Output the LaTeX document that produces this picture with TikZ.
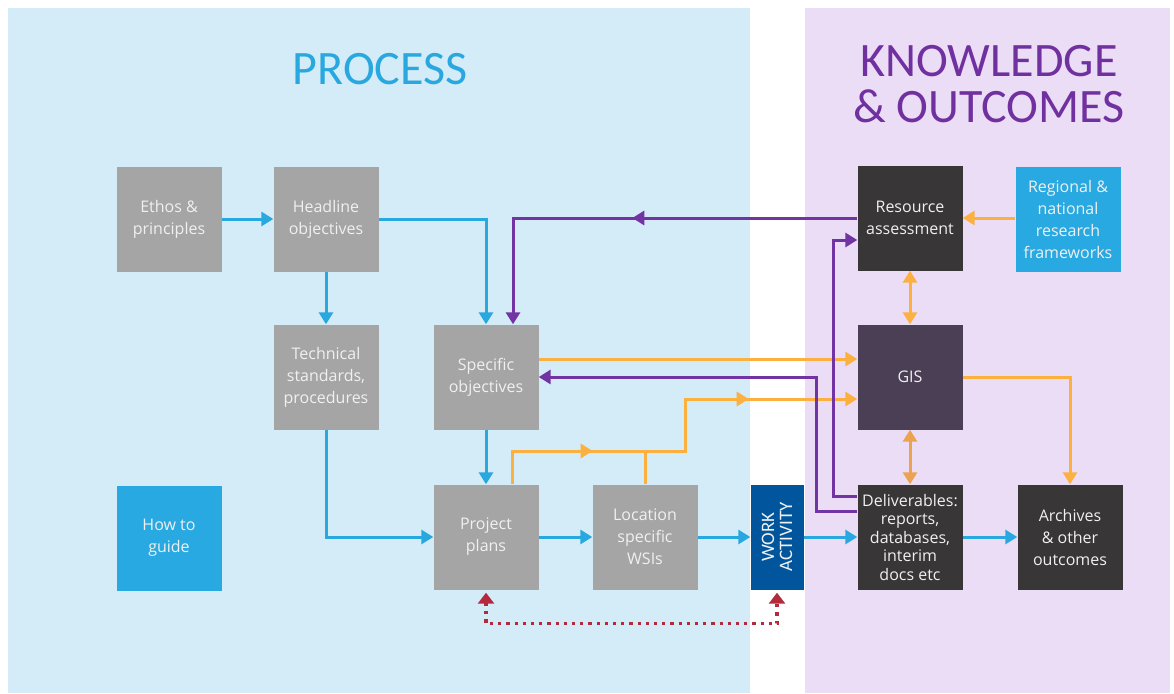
\documentclass[tikz,border=0pt]{standalone}
\usepackage{fontspec}
\setmainfont{Open Sans}
\newfontfamily\titlefont{Carlito}
\usetikzlibrary{arrows.meta,decorations.markings,calc}
\definecolor{panelblue}{HTML}{D4ECF8}
\definecolor{panelpurple}{HTML}{EBDDF5}
\definecolor{boxgray}{HTML}{A5A5A5}
\definecolor{boxblue}{HTML}{29A9E1}
\definecolor{boxdark}{HTML}{383636}
\definecolor{boxgis}{HTML}{4B3F55}
\definecolor{boxwork}{HTML}{00559C}
\definecolor{lineblue}{HTML}{29A8E0}
\definecolor{lineorange}{HTML}{FBB040}
\definecolor{lineorangeb}{HTML}{EBA352}
\definecolor{linepurple}{HTML}{7233A3}
\definecolor{linered}{HTML}{B32A3C}
\definecolor{titlepurple}{HTML}{7030A0}
\begin{document}
\begin{tikzpicture}[x=1pt,y=-1pt,
  box/.style={minimum width=105pt,minimum height=105pt,inner sep=2pt,align=center,
    text=white!94!black,font=\fontsize{16}{22}\selectfont},
  graybox/.style={box,fill=boxgray},
  bluebox/.style={box,fill=boxblue},
  darkbox/.style={box,fill=boxdark},
  title/.style={font=\titlefont\fontsize{48}{46}\selectfont,align=center},
  tip/.tip={Triangle[width=14pt,length=12pt]},
  conn/.style={line width=3pt,-tip},
  blueconn/.style={conn,draw=lineblue},
  orangeconn/.style={conn,draw=lineorange},
  purpleconn/.style={conn,draw=linepurple},
  twoway/.style={line width=3pt,tip-tip},
  reddot/.style={draw=linered,line width=3.2pt,dash pattern=on 3.2pt off 5pt,
    {Triangle[width=16pt,length=11pt]}-{Triangle[width=16pt,length=11pt]}},
  midtip/.style={postaction={decorate,decoration={markings,
    mark=at position #1 with {\arrow{Triangle[width=14pt,length=12pt]}}}}}
]
\useasboundingbox (0,0) rectangle (1174,693);
\fill[panelblue] (8,8) rectangle (750,693);
\fill[panelpurple] (805,8) rectangle (1170,693);

\node[title,text=lineblue] (ptitle) at (380,69) {PROCESS};
\node[title,text=titlepurple] (ktitle) at (989,84) {KNOWLEDGE\\\& OUTCOMES};

\node[graybox] (ethos) at (169,219) {Ethos \&\\principles};
\node[graybox] (head) at (326,219) {Headline\\objectives};
\node[graybox] (tech) at (326,377) {Technical\\standards,\\procedures};
\node[graybox] (spec) at (486,377) {Specific\\objectives};
\node[bluebox] (howto) at (169,538) {How to\\guide};
\node[graybox] (plan) at (486,537) {Project\\plans};
\node[graybox] (loc) at (645,537) {Location\\specific\\WSIs};
\node[box,fill=boxwork,minimum width=53pt] (work) at (777,537) {};
\node[rotate=90,align=center,text=white!94!black,inner sep=0pt,
  font=\titlefont\fontsize{19}{18}\selectfont] (worktext) at (work.center) {WORK\\ACTIVITY};
\node[darkbox] (res) at (910,218) {Resource\\assessment};
\node[bluebox] (reg) at (1068,219) {Regional \&\\national\\research\\frameworks};
\node[box,fill=boxgis] (gis) at (910,377) {GIS};
\node[darkbox,font=\fontsize{16}{18.5}\selectfont] (deliv) at (910,537)
  {Deliverables:\\reports,\\databases,\\interim\\docs etc};
\node[darkbox] (arch) at (1070,537) {Archives\\\& other\\outcomes};

% blue flow
\draw[blueconn] (ethos) -- (head);
\draw[blueconn] (head) -- (tech);
\draw[blueconn] (head.east) -| (spec.north);
\draw[blueconn] (tech.south) |- (plan.west);
\draw[blueconn] (spec) -- (plan);
\draw[blueconn] (plan) -- (loc);
\draw[blueconn] (loc) -- (work);
\draw[blueconn] (work) -- (deliv);
\draw[blueconn] (deliv) -- (arch);

% orange
\coordinate (oj) at (685,451);
\draw[line width=3pt,draw=lineorange] (loc.north) -- (loc.north |- oj);
\draw[orangeconn,midtip=114pt,midtip=322pt] ([xshift=26pt]plan.north) |- (oj) |- ([yshift=-22pt]gis.west);
\draw[orangeconn] ([yshift=18pt]spec.east) -- ([yshift=18pt]spec.east -| gis.west);
\draw[orangeconn] (reg.west |- res.east) -- (res.east);
\draw[twoway,draw=lineorange] (res) -- (gis);
\draw[twoway,draw=lineorangeb] (gis) -- (deliv);
\draw[orangeconn] (gis.east) -| (arch.north);

% purple
\draw[purpleconn,midtip=225pt] (res.west) -| ([xshift=27pt]spec.north);
\draw[purpleconn] ([yshift=41pt]deliv.west) -- ++(-24,0) |- ([yshift=-22pt]res.west);
\draw[purpleconn] ([yshift=26pt]deliv.west) -- ++(-41,0) |- (spec.east);

% red dotted
\draw[reddot] ([yshift=-3pt]plan.south) -- ++(0,31) -| ([yshift=-3pt]work.south);
\end{tikzpicture}
\end{document}
